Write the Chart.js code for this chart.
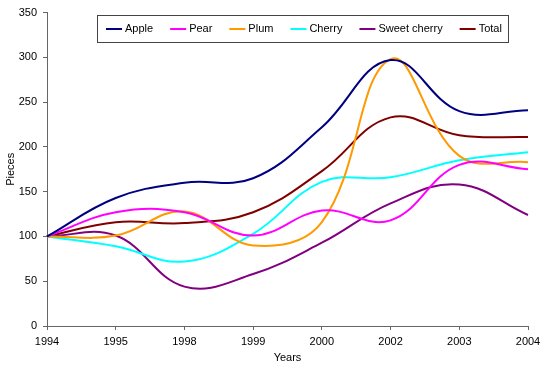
<!DOCTYPE html>
<html>
<head>
<meta charset="utf-8">
<script src="https://cdn.jsdelivr.net/npm/chart.js@4/dist/chart.umd.min.js"></script>
<style>
  html, body { margin: 0; background: #fff; }
  #wrap { width: 550px; height: 372px; }
</style>
</head>
<body>
<div id="wrap"><canvas id="fruitChart"></canvas></div>
<script>
const years = ["1994", "1995", "1998", "1999", "2000", "2002", "2003", "2004"];
const apple = [100, 143, 160, 165, 222, 297, 240, 241];
const pear = [100, 127, 127, 101, 129, 118, 180, 175];
const plum = [100, 101, 128, 90, 116, 298, 190, 183];
const cherry = [100, 89, 72, 103, 161, 166, 185, 194];
const sweetCherry = [100, 101, 44, 58, 93, 137, 158, 124];
const total = [100, 116, 115, 127, 173, 233, 213, 211];
const yTicks = [0, 50, 100, 150, 200, 250, 300, 350];

const FONT = "'Liberation Sans', Arial, sans-serif";

// framed legend sitting inside the plot, like the Excel original
const boxLegend = {
  id: "boxLegend",
  afterDraw(chart) {
    const c = chart.ctx;
    const sets = chart.data.datasets;
    const lineLen = 16, gap = 3, itemGap = 17, padL = 9, padR = 6;
    c.save();
    c.font = "11px " + FONT;
    let w = padL + padR - itemGap;
    sets.forEach((d) => { w += lineLen + gap + c.measureText(d.label).width + itemGap; });
    const left = 97, top = 15, h = 27;
    c.fillStyle = "#fff";
    c.fillRect(left, top, w, h);
    c.strokeStyle = "#444";
    c.lineWidth = 1;
    c.strokeRect(left + 0.5, top + 0.5, Math.round(w), h);
    let x = left + padL;
    const y = top + h / 2 + 0.5;
    sets.forEach((d) => {
      c.strokeStyle = d.borderColor;
      c.lineWidth = 2;
      c.beginPath();
      c.moveTo(x, y);
      c.lineTo(x + lineLen, y);
      c.stroke();
      x += lineLen + gap;
      c.fillStyle = "#000";
      c.textBaseline = "middle";
      c.fillText(d.label, x, y);
      x += c.measureText(d.label).width + itemGap;
    });
    c.restore();
  },
};

function series(label, data, color) {
  return {
    label: label,
    data: data,
    borderColor: color,
    backgroundColor: color,
    borderWidth: 2,
    pointRadius: 0,
    tension: 0.4,
    fill: false,
  };
}

new Chart(document.getElementById("fruitChart").getContext("2d"), {
  type: "line",
  data: {
    labels: years,
    datasets: [
      series("Apple", apple, "#000080"),
      series("Pear", pear, "#FF00FF"),
      series("Plum", plum, "#FF9900"),
      series("Cherry", cherry, "#00FFFF"),
      series("Sweet cherry", sweetCherry, "#800080"),
      series("Total", total, "#800000"),
    ],
  },
  options: {
    responsive: true,
    maintainAspectRatio: false,
    animation: false,
    layout: { padding: { top: 11, right: 22, left: 0, bottom: 0 } },
    plugins: { legend: { display: false }, tooltip: { enabled: false } },
    scales: {
      x: {
        offset: false,
        grid: { drawOnChartArea: false, color: "#666", tickLength: 4 },
        border: { color: "#666", width: 1 },
        ticks: { color: "#000", font: { family: FONT, size: 11 }, padding: 5, maxRotation: 0, autoSkip: false },
        title: { display: true, text: "Years", color: "#000", font: { family: FONT, size: 11 }, padding: { top: 2, bottom: 7 } },
        afterFit: (s) => { s.height = 46; },
      },
      y: {
        min: 0,
        max: 350,
        afterBuildTicks: (s) => { s.ticks = yTicks.map((v) => ({ value: v })); },
        grid: { drawOnChartArea: false, color: "#666", tickLength: 4 },
        border: { color: "#666", width: 1 },
        ticks: { color: "#000", font: { family: FONT, size: 11 }, padding: 6 },
        title: { display: true, text: "Pieces", color: "#000", font: { family: FONT, size: 11 }, padding: { top: 4, bottom: 0 } },
        afterFit: (s) => { s.width = 47; },
      },
    },
  },
  plugins: [boxLegend],
});
</script>
</body>
</html>
